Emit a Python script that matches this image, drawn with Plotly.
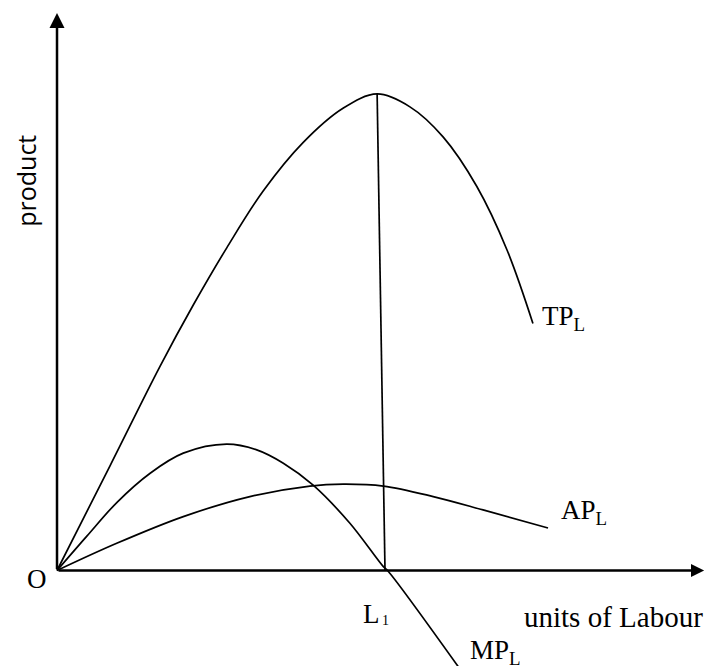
import plotly.graph_objects as go

# Short-run production curves (labour units on x, product on y)
tp_labour = [0, 1.62, 3.14, 4.15, 5.18, 6.28, 7.50, 8.72, 9.76, 10.76, 11.77, 12.80, 13.72, 14.51]
tp_product = [0, 2.20, 4.28, 5.56, 6.77, 7.95, 8.97, 9.69, 9.99, 9.72, 9.09, 8.05, 6.72, 5.18]

mp_labour = [0, 0.91, 1.83, 2.84, 3.85, 5.17, 6.09, 6.90, 7.81, 8.93, 9.95, 10.09, 12.59]
mp_product = [0, 0.72, 1.43, 2.04, 2.46, 2.65, 2.53, 2.25, 1.79, 0.99, 0.08, -0.01, -2.36]

ap_labour = [0, 1.82, 3.85, 5.88, 7.71, 8.73, 9.95, 11.47, 12.99, 14.97]
ap_product = [0, 0.57, 1.13, 1.55, 1.77, 1.81, 1.77, 1.55, 1.27, 0.89]

L1 = 10.0
x_axis_end = 19.73
y_axis_end = 11.69

W, H = 705, 666
X_RANGE = [-1.738, 19.756]
Y_RANGE = [-2.002, 11.960]

serif = "Liberation Serif, Times New Roman, serif"
ink = "black"

fig = go.Figure()

curve_style = dict(mode="lines", line=dict(color=ink, width=1.7, shape="spline", smoothing=1.0),
                   hoverinfo="skip", showlegend=False)
fig.add_trace(go.Scatter(x=tp_labour, y=tp_product, **curve_style))
fig.add_trace(go.Scatter(x=mp_labour, y=mp_product, **curve_style))
fig.add_trace(go.Scatter(x=ap_labour, y=ap_product, **curve_style))

# drop line from the top of TP down to L1
peak = tp_product.index(max(tp_product))
fig.add_trace(go.Scatter(x=[tp_labour[peak], L1], y=[tp_product[peak], 0], mode="lines",
                         line=dict(color=ink, width=1.7), hoverinfo="skip", showlegend=False))

annotations = []
# axes with arrowheads
annotations.append(dict(x=0, y=y_axis_end, ax=0, ay=0, xref="x", yref="y", axref="x", ayref="y",
                        showarrow=True, arrowhead=2, arrowsize=1.2, arrowwidth=2.5,
                        arrowcolor=ink, text=""))
annotations.append(dict(x=x_axis_end, y=0, ax=0, ay=0, xref="x", yref="y", axref="x", ayref="y",
                        showarrow=True, arrowhead=2, arrowsize=1.05, arrowwidth=2.5,
                        arrowcolor=ink, text=""))


def label(x, y, text, size=27, xanchor="left", yanchor="middle", family=serif, angle=0):
    annotations.append(dict(x=x, y=y, xref="x", yref="y", text=text, showarrow=False,
                            xanchor=xanchor, yanchor=yanchor, textangle=angle,
                            font=dict(family=family, size=size, color=ink)))


label(-0.61, -0.17, "O", xanchor="center")
label(-0.945, 8.17, "product", size=25, xanchor="center",
      family="Open Sans, Noto Sans, sans-serif", angle=-90)
label(14.72, 5.30, "TP<sub>L</sub>")
label(15.30, 1.23, "AP<sub>L</sub>")
label(12.52, -1.71, "MP<sub>L</sub>")
# L1 on the labour axis: a small index set on the baseline
label(9.28, -0.92, "L")
label(9.84, -1.05, "1", size=14)
label(14.18, -0.98, "units of Labour", size=29)

fig.update_layout(
    width=W, height=H, autosize=False,
    margin=dict(l=0, r=0, t=0, b=0),
    paper_bgcolor="white", plot_bgcolor="white",
    xaxis=dict(range=X_RANGE, visible=False, fixedrange=True),
    yaxis=dict(range=Y_RANGE, visible=False, fixedrange=True),
    annotations=annotations,
    showlegend=False,
)

fig.write_html("out.html")
